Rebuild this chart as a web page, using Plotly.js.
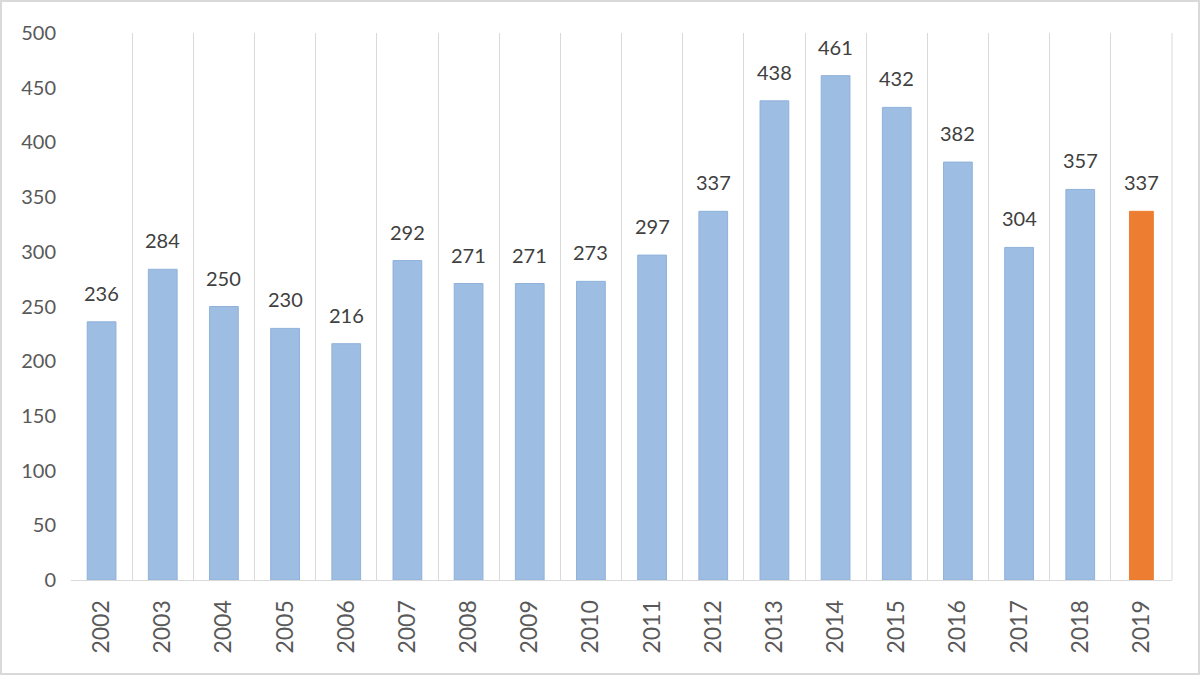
<!DOCTYPE html>
<html>
<head>
<meta charset="utf-8">
<script src="https://cdn.plot.ly/plotly-3.0.1.min.js"></script>
<style>
html,body{margin:0;padding:0;background:#fff;}
#wrap{width:1200px;height:675px;box-sizing:border-box;border:2px solid #d9d9d9;overflow:hidden;}
#chart{width:1196px;height:671px;}
</style>
</head>
<body>
<div id="wrap"><div id="chart"></div></div>
<script>
var years = ["2002","2003","2004","2005","2006","2007","2008","2009","2010","2011","2012","2013","2014","2015","2016","2017","2018","2019"];
var values = [236,284,250,230,216,292,271,271,273,297,337,438,461,432,382,304,357,337];
var highlightYear = "2019";

var colors = years.map(function(y){ return y === highlightYear ? "#ed7d31" : "#9dbde2"; });
var lineColors = years.map(function(y){ return y === highlightYear ? "#ed7d31" : "#8fb1da"; });
var widths = years.map(function(y){ return y === highlightYear ? 0.39 : 0.47; });

var trace = {
  type: "bar",
  x: years,
  y: values,
  width: widths,
  marker: {color: colors, line: {color: lineColors, width: 1}},
  hoverinfo: "x+y"
};

var annotations = years.map(function(y, i){
  return {
    x: i, y: values[i], xref: "x", yref: "y",
    text: String(values[i]),
    showarrow: false,
    yanchor: "middle",
    yshift: 29,
    font: {family: "Lato, 'Open Sans', sans-serif", size: 20, color: "#404040"}
  };
});

var layout = {
  width: 1196, height: 671,
  margin: {l: 69, r: 26, t: 31, b: 93},
  paper_bgcolor: "#ffffff",
  plot_bgcolor: "#ffffff",
  showlegend: false,
  bargap: 0.5,
  xaxis: {
    type: "category",
    categoryorder: "array",
    categoryarray: years,
    range: [-0.5, years.length - 0.5],
    tickson: "boundaries",
    showgrid: true,
    gridcolor: "#d9d9d9",
    gridwidth: 1,
    ticks: "",
    tickangle: -90,
    ticklabelstandoff: 10,
    tickfont: {family: "Lato, 'Open Sans', sans-serif", size: 23, color: "#595959"},
    showline: true,
    linecolor: "#d9d9d9",
    linewidth: 1,
    zeroline: false,
    fixedrange: true
  },
  yaxis: {
    range: [0, 500],
    dtick: 50,
    tick0: 0,
    showgrid: false,
    zeroline: false,
    showline: false,
    ticks: "",
    ticklabelstandoff: 14,
    tickfont: {family: "Lato, 'Open Sans', sans-serif", size: 20, color: "#595959"},
    fixedrange: true
  },
  annotations: annotations,
  shapes: [
    {type: "line", xref: "paper", yref: "paper", x0: 1, x1: 1, y0: 0, y1: 1, line: {color: "#d9d9d9", width: 1}}
  ]
};

Plotly.newPlot("chart", [trace], layout, {displayModeBar: false, staticPlot: true});
</script>
</body>
</html>
